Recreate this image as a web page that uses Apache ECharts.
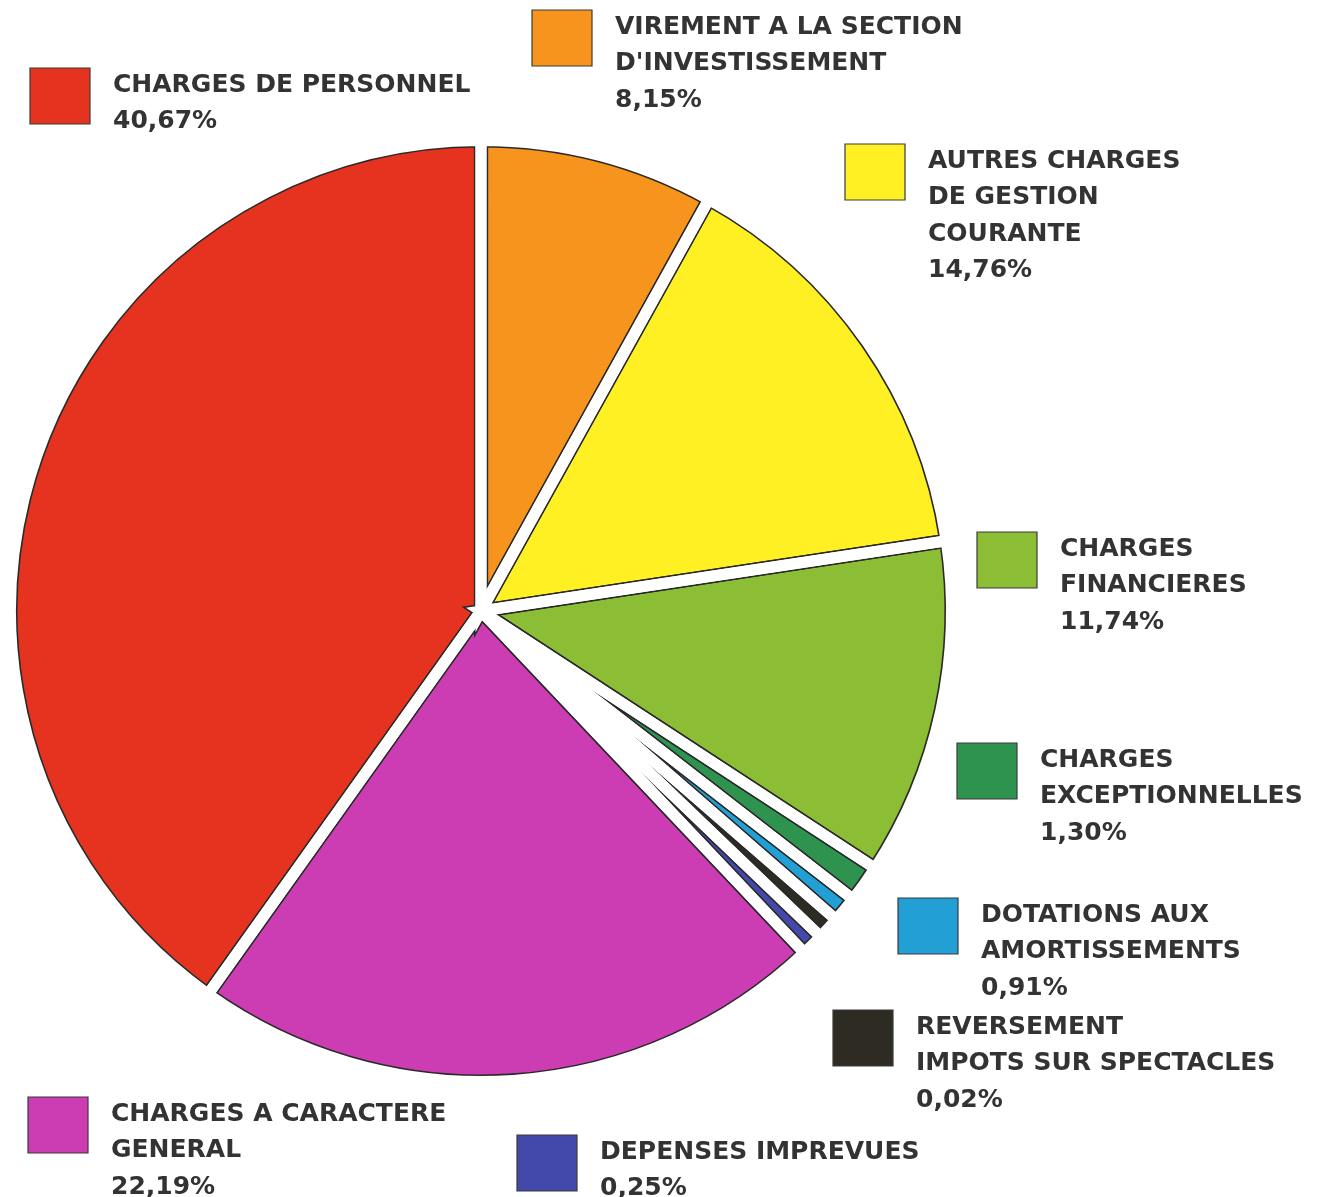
<!DOCTYPE html>
<html>
<head>
<meta charset="utf-8">
<script src="https://cdn.jsdelivr.net/npm/echarts@6/dist/echarts.min.js"></script>
<style>
  html, body { margin: 0; padding: 0; background: #ffffff; }
  #chart { width: 1329px; height: 1197px; }
</style>
</head>
<body>
<div id="chart"></div>
<script>
// ---- data (clockwise from 12 o'clock) ----
const categories = [
  "VIREMENT A LA SECTION\nD'INVESTISSEMENT",
  "AUTRES CHARGES\nDE GESTION\nCOURANTE",
  "CHARGES\nFINANCIERES",
  "CHARGES\nEXCEPTIONNELLES",
  "DOTATIONS AUX\nAMORTISSEMENTS",
  "REVERSEMENT\nIMPOTS SUR SPECTACLES",
  "DEPENSES IMPREVUES",
  "CHARGES A CARACTERE\nGENERAL",
  "CHARGES DE PERSONNEL"
];
const values = [8.15, 14.76, 11.74, 1.30, 0.91, 0.02, 0.25, 22.19, 40.67];
const colors = ['#f7941d', '#fff023', '#8bbd35', '#2f9350', '#22a0d6', '#2d2b22', '#4349aa', '#cc3db3', '#e5331f'];

// ---- layout (not data) ----
const legendBoxes = [[532, 10], [845, 144], [977, 532], [957, 743], [898, 898], [833, 1010], [517, 1135], [28, 1097], [30, 68]];
const CX = 481, CY = 611, RV = 465, G = 5.5, O = 1.6;
const R = RV + G;
const BOX_W = 60, BOX_H = 56, LINE_H = 36.5;

function pct(v) { return v.toFixed(2).replace('.', ',') + '%'; }

function pieLayer(fill, stroke, width) {
  return {
    type: 'pie',
    center: [CX, CY],
    radius: [0, R],
    startAngle: 90,
    clockwise: true,
    minAngle: 2.8,
    silent: true,
    animation: false,
    label: { show: false },
    labelLine: { show: false },
    emphasis: { disabled: true },
    data: categories.map((n, i) => ({
      name: n, value: values[i],
      itemStyle: { color: fill || colors[i], borderColor: stroke, borderWidth: width, borderJoin: 'miter' }
    }))
  };
}

const graphics = [];
categories.forEach((name, i) => {
  const [bx, by] = legendBoxes[i];
  graphics.push({
    type: 'rect',
    shape: { x: bx, y: by, width: BOX_W, height: BOX_H },
    style: { fill: colors[i], stroke: '#3a3a3a', lineWidth: 1.2 },
    silent: true
  });
  graphics.push({
    type: 'text',
    x: bx + BOX_W + 23,
    y: by + 17 - LINE_H / 2,
    style: {
      text: name + '\n' + pct(values[i]),
      fill: '#333333',
      fontFamily: 'DejaVu Sans',
      fontWeight: 'bold',
      fontSize: 25,
      lineHeight: LINE_H,
      verticalAlign: 'top',
      align: 'left'
    },
    silent: true
  });
});

const chart = echarts.init(document.getElementById('chart'), null, { renderer: 'canvas' });
chart.setOption({
  backgroundColor: '#ffffff',
  animation: false,
  series: [
    pieLayer(null, 'transparent', 0),
    pieLayer('rgba(0,0,0,0)', '#2a2a2a', 2 * (G + O)),
    pieLayer('rgba(0,0,0,0)', '#ffffff', 2 * G),
    {
      type: 'pie', center: [CX, CY], radius: [R - 0.5, R + G + O + 4], silent: true, animation: false,
      label: { show: false }, labelLine: { show: false }, emphasis: { disabled: true },
      data: [{ value: 1, name: 'ring', itemStyle: { color: '#ffffff', borderWidth: 0 } }]
    }
  ],
  graphic: graphics
});
</script>
</body>
</html>
